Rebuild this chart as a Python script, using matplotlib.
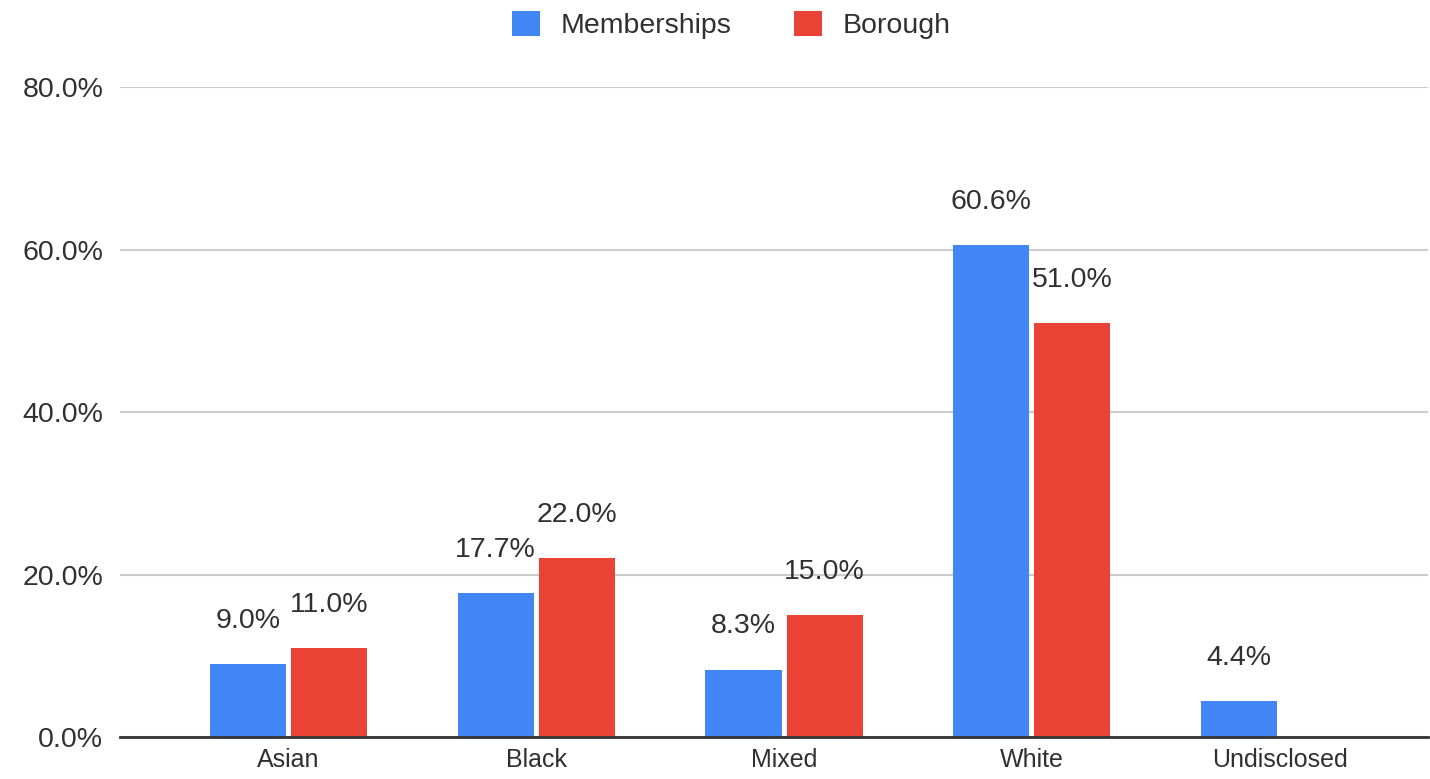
"""Ethnicity breakdown: memberships vs borough population."""

import matplotlib

matplotlib.use("Agg")
import matplotlib.pyplot as plt  # noqa: E402
import numpy as np  # noqa: E402

plt.rcParams["font.family"] = ["Liberation Sans", "DejaVu Sans"]

CATEGORIES = ["Asian", "Black", "Mixed", "White", "Undisclosed"]
MEMBERSHIPS = [9.0, 17.7, 8.3, 60.6, 4.4]
BOROUGH = [11.0, 22.0, 15.0, 51.0, np.nan]  # no borough figure for undisclosed
Y_TICKS = [0, 20, 40, 60, 80]

BLUE = "#4285F4"
RED = "#EA4335"
TXT = "#303030"

fig = plt.figure(figsize=(14.3, 7.79), dpi=100)
ax = fig.add_axes([0.0839, 0.0539, 0.9147, 0.8344])

x = np.arange(len(CATEGORIES))
w = 0.307
off = 0.1635
for vals, col, lab, dx in [(MEMBERSHIPS, BLUE, "Memberships", -off), (BOROUGH, RED, "Borough", off)]:
    v = np.array(vals, dtype=float)
    ax.bar(x + dx, np.nan_to_num(v), w, color=col, label=lab, zorder=3)
    for xi, vi in zip(x + dx, v):
        if np.isnan(vi):
            continue
        ax.annotate(
            f"{vi:.1f}%",
            (xi, vi),
            xytext=(0, 26),
            textcoords="offset points",
            ha="center",
            va="baseline",
            fontsize=20.5,
            color=TXT,
            zorder=4,
        )

ax.set_xlim(-0.68, 4.599)
ax.set_ylim(0, 80)
ax.set_yticks(Y_TICKS)
ax.set_yticklabels([f"{t:.1f}%" for t in Y_TICKS], fontsize=20.5, color=TXT)
ax.set_xticks(x)
ax.set_xticklabels(CATEGORIES, fontsize=18, color=TXT)
ax.tick_params(axis="both", length=0)
ax.tick_params(axis="y", pad=12)
ax.tick_params(axis="x", pad=8)
ax.grid(axis="y", color="#cccccc", linewidth=1.5, zorder=0)
for s in ["left", "right", "top"]:
    ax.spines[s].set_visible(False)
ax.spines["bottom"].set_color("#333333")
ax.spines["bottom"].set_linewidth(2)
ax.spines["bottom"].set_zorder(5)

fig.legend(
    loc="center",
    bbox_to_anchor=(731 / 1430, 1 - 25 / 779),
    ncol=2,
    frameon=False,
    fontsize=20.5,
    handlelength=1.0,
    handleheight=1.0,
    handletextpad=0.7,
    columnspacing=2.2,
    labelcolor=TXT,
)

fig.savefig("out.png", dpi=100)
